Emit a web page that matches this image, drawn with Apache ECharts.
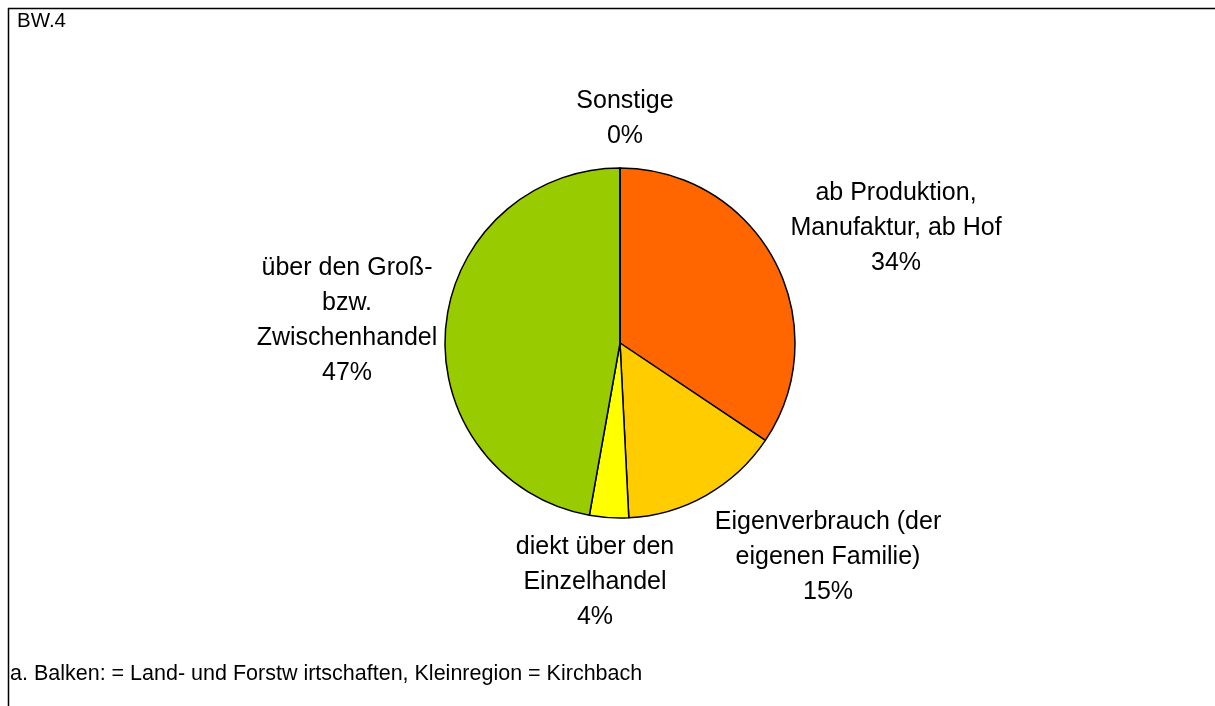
<!DOCTYPE html>
<html>
<head>
<meta charset="utf-8">
<script src="https://cdn.jsdelivr.net/npm/echarts@6/dist/echarts.min.js"></script>
<style>
  html, body { margin: 0; padding: 0; background: #fff; }
  #chart { width: 1215px; height: 706px; }
</style>
</head>
<body>
<div id="chart"></div>
<script>
// Absatzwege (Anteile in %)
const categories = [
  'ab Produktion,\nManufaktur, ab Hof',
  'Eigenverbrauch (der\neigenen Familie)',
  'diekt über den\nEinzelhandel',
  'über den Groß-\nbzw.\nZwischenhandel',
  'Sonstige'
];
const values = [34.4, 14.8, 3.6, 47.2, 0];
const colors = ['#FF6600', '#FFCC00', '#FFFF00', '#99CC00', '#3366FF'];

const titleText = 'BW.4';
const noteText = 'a. Balken: = Land- und Forstw irtschaften, Kleinregion = Kirchbach';

// pie geometry and label offsets from the pie centre
const cx = 620, cy = 343, radius = 175;
const labelOffsets = [[276, -115], [208, 214], [-25, 239], [-273, -22], [5, -224]];

const chart = echarts.init(document.getElementById('chart'));

chart.setOption({
  backgroundColor: '#ffffff',
  animation: false,
  graphic: [
    { type: 'line', shape: { x1: 8, y1: 8.5, x2: 1215, y2: 8.5 }, style: { stroke: '#000', lineWidth: 1.5 } },
    { type: 'line', shape: { x1: 8.5, y1: 8, x2: 8.5, y2: 706 }, style: { stroke: '#000', lineWidth: 1.5 } },
    { type: 'text', left: 17, top: 11, style: { text: titleText, font: '20.5px "Liberation Sans", Arial, sans-serif', fill: '#000' } },
    { type: 'text', left: 10, top: 663, style: { text: noteText, font: '21.5px "Liberation Sans", Arial, sans-serif', fill: '#000' } }
  ],
  series: [{
    type: 'pie',
    center: [cx, cy],
    radius: radius,
    startAngle: 90,
    clockwise: true,
    avoidLabelOverlap: false,
    minShowLabelAngle: 0,
    stillShowZeroSum: true,
    itemStyle: { borderColor: '#000', borderWidth: 1.5 },
    emphasis: { disabled: true },
    label: {
      show: true,
      position: 'outside',
      color: '#000',
      fontFamily: '"Liberation Sans", Arial, sans-serif',
      fontSize: 25,
      lineHeight: 35,
      align: 'center',
      formatter: p => p.name + '\n' + Math.round(p.percent) + '%'
    },
    labelLine: { show: false },
    labelLayout: p => ({
      x: cx + labelOffsets[p.dataIndex][0],
      y: cy + labelOffsets[p.dataIndex][1],
      align: 'center',
      verticalAlign: 'middle'
    }),
    data: categories.map((name, i) => ({
      name: name,
      value: values[i],
      itemStyle: { color: colors[i] }
    }))
  }]
});
</script>
</body>
</html>
